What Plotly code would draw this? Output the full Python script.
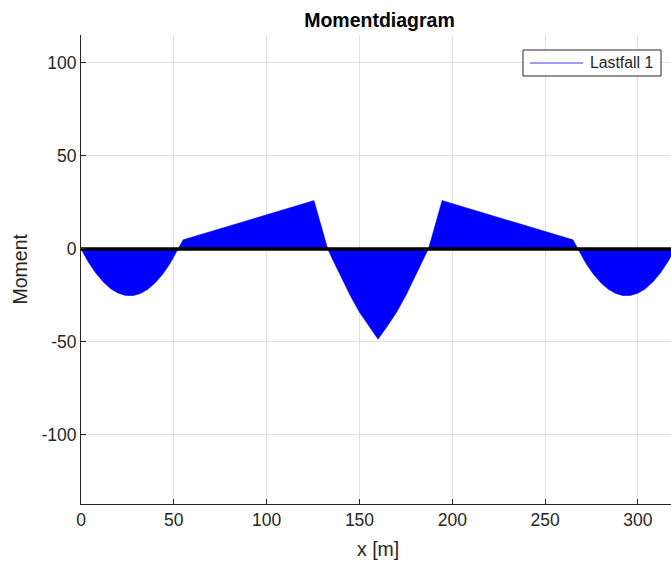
import plotly.graph_objects as go

# Bending moment along the beam (x in m)
x_pos = [0, 4, 8, 12, 16, 20, 24, 28, 32, 36, 40, 44, 48, 52, 55,
         125.5, 127, 129, 131, 132.9, 135, 140, 145, 150, 155, 160,
         165, 170, 175, 180, 185, 187.1, 189, 191, 193, 194.5,
         265, 268, 272, 276, 280, 284, 288, 292, 296, 300, 304, 308, 312, 316, 320]
moment = [0, -7.1, -13.0, -17.8, -21.4, -23.8, -25.0, -25.1, -24.0, -21.7, -18.2, -13.6, -7.8, -0.8, 4.9,
          26.0, 20.8, 13.7, 6.5, 0.0, -4.6, -15.0, -25.0, -34.0, -41.5, -48.5,
          -41.5, -34.0, -25.0, -15.0, -4.6, 0.0, 6.5, 13.7, 20.8, 26.0,
          4.9, -0.8, -7.8, -13.6, -18.2, -21.7, -24.0, -25.1, -25.0, -23.8, -21.4, -17.8, -13.0, -7.1, 0]

# Beam axis (zero line)
beam_x = [0, 320]
beam_y = [0, 0]

x_ticks = [0, 50, 100, 150, 200, 250, 300]
x_tick_labels = ["0", "50", "100", "150", "200", "250", "300"]
y_ticks = [-100, -50, 0, 50, 100]
y_tick_labels = ["-100", "-50", "0", "50", "100"]

series_name = "Lastfall 1"

FONT = "Liberation Sans, Arial, Helvetica, sans-serif"
AX = "#262626"
GRID = "#e1e1e1"
BLUE = "#0000ff"

W, H = 671, 565
L, R, T, B = 81, 0, 35, 61
PW, PH = W - L - R, H - T - B


def px_x(p):
    """pixel column -> paper x"""
    return (p - L) / PW


def px_y(p):
    """pixel row -> paper y"""
    return (H - B - p) / PH


fig = go.Figure()

fig.add_trace(go.Scatter(
    x=x_pos, y=moment, mode="lines", fill="tozeroy", name=series_name,
    fillcolor=BLUE, line=dict(color=BLUE, width=0.5),
    showlegend=False, hoverinfo="skip",
))

fig.add_trace(go.Scatter(
    x=beam_x, y=beam_y, mode="lines",
    line=dict(color="black", width=3.5),
    showlegend=False, hoverinfo="skip",
))

# Legend box in the upper right corner
shapes = [
    dict(type="rect", xref="paper", yref="paper",
         x0=px_x(523), x1=px_x(661), y0=px_y(76), y1=px_y(50),
         line=dict(color=AX, width=1), fillcolor="white", layer="above"),
    dict(type="line", xref="paper", yref="paper",
         x0=px_x(530), x1=px_x(583), y0=px_y(63), y1=px_y(63),
         line=dict(color="#3a3aff", width=1), layer="above"),
]

fig.update_layout(
    width=W, height=H,
    margin=dict(l=L, r=R, t=T, b=B),
    paper_bgcolor="white", plot_bgcolor="white",
    font=dict(family=FONT, color=AX, size=17.5),
    showlegend=False,
    title=dict(
        text="Momentdiagram", x=379.5 / W, xref="container", xanchor="center",
        y=1 - 20 / H, yref="container", yanchor="middle",
        font=dict(family=FONT, size=19.5, color="black", weight="bold"),
    ),
    xaxis=dict(
        range=[0, 317.8], tickvals=x_ticks, ticktext=x_tick_labels,
        showgrid=True, gridcolor=GRID, gridwidth=1, zeroline=False,
        showline=True, linecolor=AX, linewidth=1,
        ticks="inside", ticklen=5, tickcolor=AX,
        tickfont=dict(family=FONT, size=17.5, color=AX),
    ),
    yaxis=dict(
        range=[-137.1, 115], tickvals=y_ticks, ticktext=y_tick_labels,
        showgrid=True, gridcolor=GRID, gridwidth=1, zeroline=False,
        showline=True, linecolor=AX, linewidth=1,
        ticks="inside", ticklen=5, tickcolor=AX,
        tickfont=dict(family=FONT, size=17.5, color=AX),
    ),
    shapes=shapes,
    annotations=[
        dict(text=series_name, xref="paper", yref="paper",
             x=px_x(588), y=px_y(63), xanchor="left", yanchor="middle",
             showarrow=False, font=dict(family=FONT, size=15.8, color=AX)),
        dict(text="x [m]", xref="paper", yref="paper",
             x=px_x(378), y=px_y(549),
             xanchor="center", yanchor="middle", showarrow=False,
             font=dict(family=FONT, size=19.5, color=AX)),
        dict(text="Moment", xref="paper", yref="paper",
             x=px_x(19), y=0.5, textangle=-90,
             xanchor="center", yanchor="middle", showarrow=False,
             font=dict(family=FONT, size=19.5, color=AX)),
    ],
)

fig.write_html("out.html")
